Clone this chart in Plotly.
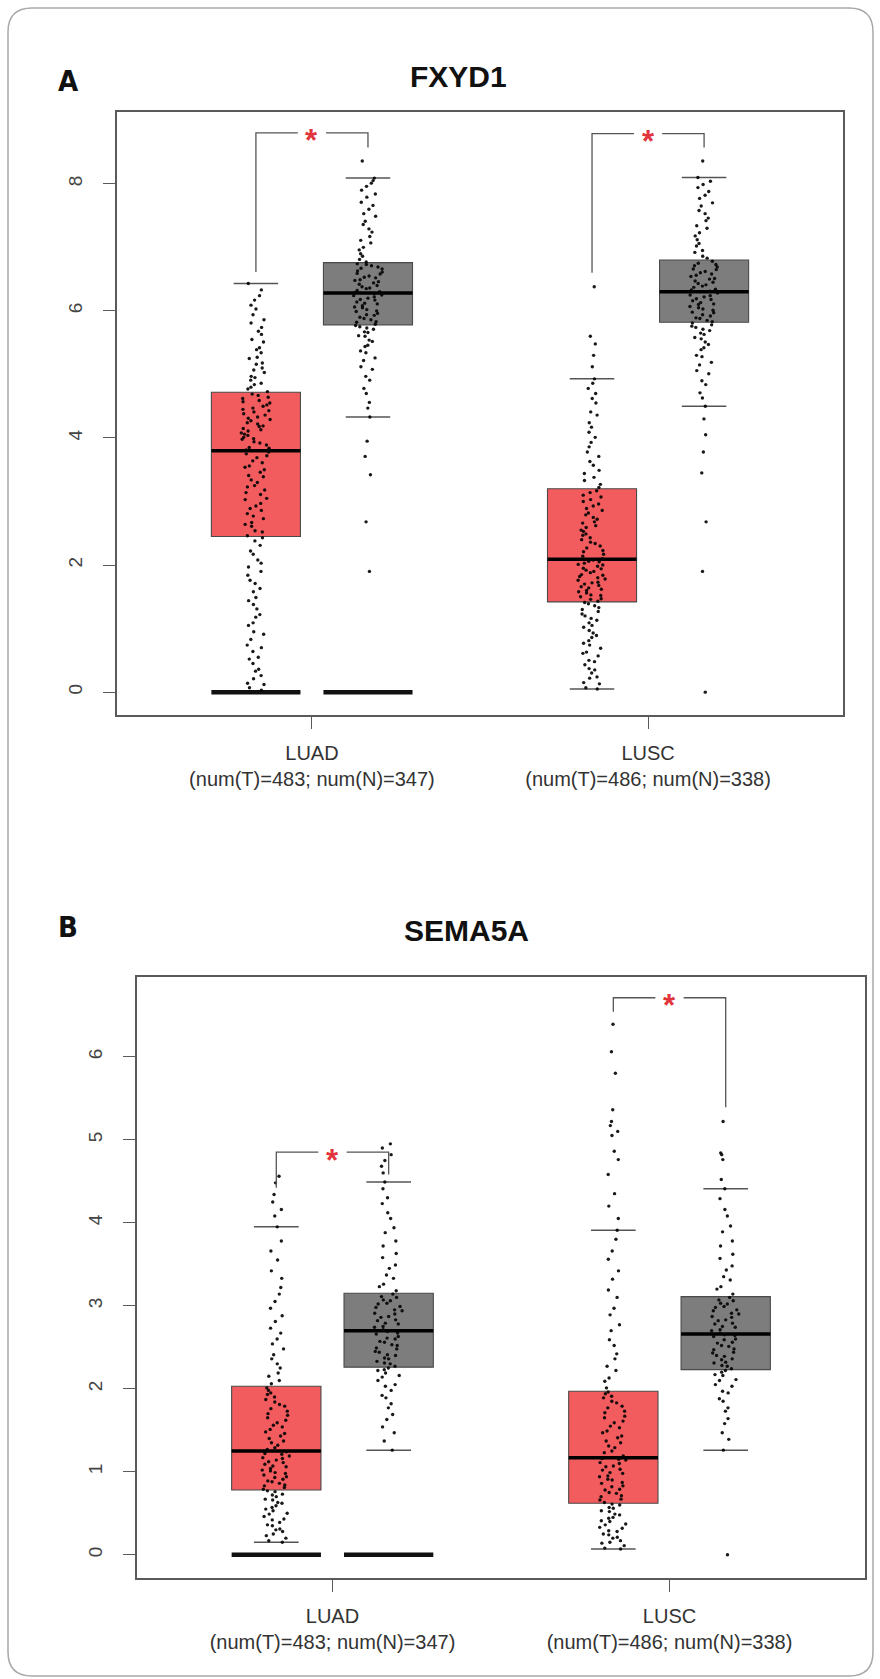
import plotly.graph_objects as go

W, H = 880, 1679

# ---------------- data ----------------
groups = ["LUAD", "LUSC"]
tick_labels = ["LUAD<br>(num(T)=483; num(N)=347)", "LUSC<br>(num(T)=486; num(N)=338)"]

# Panel A : FXYD1   (lower whisker, Q1, median, Q3, upper whisker)
a_title = "FXYD1"
a_t_lo = [0.00, 0.05]
a_t_q1 = [2.45, 1.42]
a_t_med = [3.80, 2.09]
a_t_q3 = [4.72, 3.20]
a_t_hi = [6.43, 4.93]
a_n_lo = [4.33, 4.50]
a_n_q1 = [5.78, 5.82]
a_n_med = [6.28, 6.30]
a_n_q3 = [6.76, 6.80]
a_n_hi = [8.09, 8.10]
a_zero_bar = [True, False]
a_br_y = [8.80, 8.79]
a_br_left = [6.61, 6.60]
a_br_right = [8.57, 8.57]
a_ticks = [0, 2, 4, 6, 8]

a_pts_luad_t = """0.03 0.07 0.12 0.14 0.21 0.26 0.33 0.36 0.45 0.52 0.55 0.64 0.7 0.74 0.83 0.91 0.95 1.05 1.09 1.18
1.22 1.31 1.38 1.44 1.49 1.58 1.63 1.71 1.76 1.84 1.9 1.97 2.03 2.08 2.17 2.22 2.31 2.38 2.43
2.46 2.52 2.54 2.61 2.64 2.67 2.73 2.77 2.81 2.86 2.89 2.93 2.97 3.03 3.05 3.11 3.14 3.18 3.23 3.25
3.3 3.34 3.39 3.41 3.46 3.5 3.54 3.56 3.61 3.64 3.69 3.72 3.75 3.78
3.81 3.84 3.85 3.89 3.92 3.94 3.98 3.99 4.01 4.04 4.06 4.08 4.11 4.13 4.15 4.18 4.19 4.22 4.24 4.27
4.29 4.31 4.33 4.36 4.38 4.41 4.43 4.45 4.47 4.5 4.52 4.55 4.57 4.59 4.62 4.64 4.67 4.69
4.73 4.77 4.8 4.84 4.86 4.91 4.95 4.97 5.03 5.07 5.1 5.16 5.18 5.25 5.27 5.34 5.39 5.42 5.51 5.55
5.63 5.68 5.74 5.81 5.86 5.94 6.03 6.09 6.17 6.24 6.33 6.43"""
a_pts_luad_n = """1.9 2.68 3.42 3.71 3.95 8.36
4.33 4.47 4.56 4.7 4.78 4.91 4.97 5.08 5.12 5.22 5.26 5.34 5.37 5.44 5.46 5.52 5.54 5.6 5.61 5.66 5.67 5.71 5.73 5.75 5.77
5.79 5.82 5.83 5.86 5.88 5.9 5.93 5.94 5.96 5.99 6.0 6.02 6.05 6.06 6.08 6.11 6.12 6.14 6.17 6.18 6.2 6.22 6.24 6.25 6.27
6.29 6.3 6.32 6.35 6.36 6.38 6.4 6.42 6.44 6.46 6.48 6.49 6.52 6.53 6.55 6.58 6.59 6.61 6.63 6.66 6.67 6.69 6.71 6.73 6.74
6.77 6.81 6.86 6.9 6.96 7.0 7.07 7.11 7.17 7.24 7.29 7.36 7.41 7.49 7.53 7.6 7.66 7.71 7.79 7.84 7.9 7.96 8.01 8.05 8.09"""
a_pts_lusc_t = """0.05 0.07 0.13 0.15 0.22 0.24 0.3 0.35 0.37 0.43 0.48 0.5 0.57 0.61 0.63 0.69 0.74 0.77 0.81 0.86
0.89 0.93 0.97 1.02 1.05 1.09 1.13 1.16 1.2 1.23 1.27 1.3 1.33 1.36 1.39 1.41
1.43 1.46 1.47 1.5 1.52 1.53 1.56 1.58 1.6 1.62 1.64 1.66 1.68 1.7 1.72 1.73 1.76 1.78 1.8 1.82
1.84 1.85 1.88 1.9 1.92 1.94 1.95 1.98 2.0 2.01 2.03 2.05 2.06 2.08
2.1 2.14 2.17 2.21 2.23 2.27 2.3 2.34 2.36 2.4 2.43 2.47 2.49 2.53 2.55 2.59 2.62 2.66 2.68 2.72
2.75 2.79 2.82 2.86 2.89 2.93 2.96 3.0 3.03 3.07 3.1 3.14 3.17
3.22 3.27 3.33 3.38 3.44 3.49 3.57 3.63 3.71 3.78 3.86 3.93 4.01 4.09 4.17 4.24 4.36 4.41 4.55 4.62
4.7 4.78 4.86 4.93 5.12 5.3 5.48 5.6 6.38"""
a_pts_lusc_n = """0.0 1.9 2.68 3.45 3.78 4.05 4.3 8.36
4.5 4.63 4.71 4.84 4.9 5.01 5.06 5.15 5.19 5.28 5.3 5.39 5.42 5.47 5.51 5.56 5.58 5.63 5.65 5.69 5.71 5.74 5.76 5.78 5.81
5.83 5.85 5.88 5.89 5.92 5.94 5.97 5.98 6.01 6.03 6.05 6.07 6.1 6.11 6.13 6.16 6.18 6.19 6.22 6.24 6.25 6.28
6.31 6.33 6.34 6.37 6.39 6.41 6.43 6.45 6.47 6.5 6.51 6.54 6.56 6.58 6.6 6.62 6.65 6.66 6.69 6.71 6.73 6.75 6.78
6.83 6.86 6.92 6.95 7.02 7.06 7.12 7.18 7.23 7.3 7.34 7.42 7.46 7.53 7.58 7.65 7.7 7.77 7.82 7.88 7.94 7.99 8.04 8.1"""

# Panel B : SEMA5A
b_title = "SEMA5A"
b_t_lo = [0.15, 0.07]
b_t_q1 = [0.78, 0.62]
b_t_med = [1.25, 1.17]
b_t_q3 = [2.03, 1.97]
b_t_hi = [3.95, 3.91]
b_n_lo = [1.26, 1.26]
b_n_q1 = [2.26, 2.23]
b_n_med = [2.70, 2.66]
b_n_q3 = [3.15, 3.11]
b_n_hi = [4.49, 4.41]
b_zero_bar = [True, False]
b_br_y = [4.85, 6.71]
b_br_left = [4.42, 6.54]
b_br_right = [4.58, 5.39]
b_ticks = [0, 1, 2, 3, 4, 5, 6]

b_pts_luad_t = """0.15 0.17 0.2 0.23 0.25 0.28 0.3 0.31 0.35 0.36 0.39 0.42 0.43 0.46 0.49 0.5 0.53 0.55 0.57 0.59
0.62 0.63 0.66 0.67 0.7 0.72 0.73 0.76 0.77
0.79 0.81 0.83 0.84 0.86 0.88 0.89 0.91 0.93 0.94 0.96 0.98 0.99 1.01 1.02 1.04 1.06 1.07 1.09 1.11
1.12 1.14 1.16 1.17 1.19 1.21 1.22 1.24
1.27 1.29 1.32 1.35 1.37 1.4 1.43 1.46 1.48 1.51 1.54 1.56 1.59 1.62 1.65 1.68 1.7 1.73 1.76 1.79
1.81 1.84 1.87 1.9 1.93 1.95 1.98 2.01
2.06 2.1 2.15 2.19 2.25 2.3 2.36 2.41 2.48 2.54 2.6 2.67 2.73 2.81 2.88 2.97 3.05 3.14 3.22 3.33
3.42 3.55 3.66 3.78 3.95 4.08 4.16 4.25 4.34 4.48 4.56"""
b_pts_luad_n = """1.26 1.37 1.47 1.54 1.63 1.69 1.77 1.82 1.89 1.92 1.98 2.03 2.05 2.1 2.14 2.16 2.19 2.22 2.23 2.25
2.27 2.3 2.31 2.33 2.36 2.37 2.4 2.41 2.44 2.45 2.48 2.49 2.52 2.53 2.56 2.57 2.6 2.61 2.63 2.66 2.67 2.69
2.71 2.74 2.75 2.78 2.79 2.82 2.83 2.86 2.87 2.9 2.91 2.94 2.95 2.98 2.99 3.02 3.03 3.06 3.07 3.1 3.11 3.14
3.18 3.23 3.26 3.33 3.37 3.45 3.49 3.58 3.63 3.72 3.78 3.88 3.94 4.05 4.12 4.23 4.3 4.41 4.49 4.6 4.68 4.75 4.82 4.9 4.95"""
b_pts_lusc_t = """0.07 0.08 0.11 0.14 0.15 0.17 0.2 0.21 0.24 0.25 0.28 0.29 0.32 0.33 0.36 0.37 0.4 0.41 0.44 0.45
0.48 0.49 0.52 0.53 0.56 0.57 0.6 0.61
0.63 0.66 0.67 0.7 0.71 0.74 0.75 0.78 0.79 0.82 0.83 0.86 0.87 0.9 0.91 0.94 0.95 0.98 0.99 1.02
1.03 1.06 1.07 1.1 1.11 1.14 1.15 1.16
1.19 1.23 1.25 1.29 1.31 1.35 1.37 1.41 1.43 1.47 1.49 1.53 1.55 1.59 1.61 1.65 1.67 1.71 1.73 1.77
1.79 1.83 1.85 1.89 1.91 1.94 1.96
2.01 2.09 2.13 2.22 2.27 2.36 2.42 2.52 2.59 2.7 2.77 2.89 2.97 3.1 3.19 3.32 3.42 3.56 3.66 3.8
3.91 4.05 4.2 4.35 4.58 4.76 4.86 5.05 5.1 5.17 5.22 5.36 5.8 6.06 6.39"""
b_pts_lusc_n = """0.0 1.26 1.39 1.47 1.58 1.64 1.73 1.77 1.85 1.88 1.95 1.97 2.03 2.05 2.1 2.11 2.16 2.17 2.2 2.22
2.24 2.27 2.28 2.31 2.32 2.35 2.36 2.39 2.4 2.43 2.44 2.47 2.48 2.51 2.52 2.55 2.56 2.59 2.6 2.63 2.64 2.65
2.67 2.7 2.71 2.74 2.75 2.78 2.79 2.82 2.83 2.86 2.87 2.9 2.91 2.94 2.95 2.98 2.99 3.02 3.03 3.06 3.07 3.1
3.14 3.2 3.23 3.31 3.35 3.43 3.48 3.57 3.62 3.72 3.78 3.89 3.96 4.08 4.16 4.29 4.41 4.52 4.76 4.82 4.84 5.22"""


def parse(s):
    return [float(v) for v in s.split()]


# ---------------- style / layout constants ----------------
T_FILL = "#F25C5E"
N_FILL = "#7D7D7D"
OUTLINE = "#4a4a4a"
FRAME = "#5a5a5a"
CAP = "#555555"
STAR = "#E2343C"
OFF = 0.1667      # offset of tumor / normal boxes from group centre
BW = 0.265        # box width (data units)
XR = [0.42, 2.58]
FONT = "Liberation Sans, Arial, Helvetica, sans-serif"

fig = go.Figure()


def flat_box(pos, val, width, color, lw, xa, ya):
    # degenerate box -> horizontal bar (median line, whisker cap, zero bar)
    fig.add_trace(go.Box(
        x=[pos], q1=[val], median=[val], q3=[val], lowerfence=[val], upperfence=[val],
        orientation="v", width=width, whiskerwidth=0, boxpoints=False,
        fillcolor=color, line=dict(color=color, width=lw),
        xaxis=xa, yaxis=ya, showlegend=False, hoverinfo="skip"))


def add_panel(xa, ya, t_stats, n_stats, zero_bar, pts, br_y, br_l, br_r):
    xref = "x" if xa == "x" else "x2"
    yref = "y" if ya == "y" else "y2"
    for gi in range(len(groups)):
        c = gi + 1
        for side, stats, fill in ((-1, t_stats, T_FILL), (1, n_stats, N_FILL)):
            lo, q1, med, q3, hi = [s[gi] for s in stats]
            pos = c + side * OFF
            fig.add_trace(go.Box(
                x=[pos], q1=[q1], median=[med], q3=[q3], lowerfence=[q1], upperfence=[q3],
                orientation="v", width=BW, whiskerwidth=0, boxpoints=False,
                fillcolor=fill, line=dict(color=OUTLINE, width=1.1),
                xaxis=xa, yaxis=ya, showlegend=False, hoverinfo="skip"))
            flat_box(pos, med, BW, "black", 3.5, xa, ya)
            flat_box(pos, lo, BW * 0.5, CAP, 1.5, xa, ya)
            flat_box(pos, hi, BW * 0.5, CAP, 1.5, xa, ya)
        if zero_bar[gi]:
            for side in (-1, 1):
                flat_box(c + side * OFF, 0, BW, "#111111", 4.5, xa, ya)
    # jittered sample points
    for gi in range(len(groups)):
        c = gi + 1
        for side, vals in ((-1, pts[gi][0]), (1, pts[gi][1])):
            pos = c + side * OFF
            fig.add_trace(go.Box(
                x=[pos] * len(vals), y=vals, boxpoints="all", jitter=0.33, pointpos=0,
                width=BW, fillcolor="rgba(0,0,0,0)", line=dict(color="rgba(0,0,0,0)", width=0),
                marker=dict(size=3.4, color="rgba(5,5,5,0.92)"),
                xaxis=xa, yaxis=ya, showlegend=False, hoverinfo="skip"))
    # significance brackets
    for gi in range(len(groups)):
        c = gi + 1
        xt, xn = c - OFF, c + OFF
        gap = 0.042
        fig.add_trace(go.Scatter(
            x=[xt, xt, c - gap, None, c + gap, xn, xn],
            y=[br_l[gi], br_y[gi], br_y[gi], None, br_y[gi], br_y[gi], br_r[gi]],
            mode="lines", line=dict(color="#555", width=1.3),
            xaxis=xa, yaxis=ya, showlegend=False, hoverinfo="skip"))
        fig.add_annotation(x=c, y=br_y[gi], xref=xref, yref=yref, text="<b>*</b>",
                           showarrow=False, yshift=-8,
                           font=dict(family=FONT, size=31, color=STAR))


add_panel("x", "y",
          [a_t_lo, a_t_q1, a_t_med, a_t_q3, a_t_hi],
          [a_n_lo, a_n_q1, a_n_med, a_n_q3, a_n_hi],
          a_zero_bar,
          [[parse(a_pts_luad_t), parse(a_pts_luad_n)], [parse(a_pts_lusc_t), parse(a_pts_lusc_n)]],
          a_br_y, a_br_left, a_br_right)
add_panel("x2", "y2",
          [b_t_lo, b_t_q1, b_t_med, b_t_q3, b_t_hi],
          [b_n_lo, b_n_q1, b_n_med, b_n_q3, b_n_hi],
          b_zero_bar,
          [[parse(b_pts_luad_t), parse(b_pts_luad_n)], [parse(b_pts_lusc_t), parse(b_pts_lusc_n)]],
          b_br_y, b_br_left, b_br_right)


def px_x(p):
    return p / W


def px_y(p):
    return 1 - p / H


common_x = dict(range=XR, tickvals=[1, 2], ticktext=tick_labels, ticks="outside", ticklen=12,
                tickwidth=1.3, tickcolor=FRAME, showline=True, mirror=True, linecolor=FRAME,
                linewidth=1.6, showgrid=False, zeroline=False, ticklabelstandoff=7,
                tickfont=dict(family=FONT, size=20, color="#333"))
common_y = dict(ticks="outside", ticklen=12, tickwidth=1.3, tickcolor=FRAME, showline=True,
                mirror=True, linecolor=FRAME, linewidth=1.6, showgrid=False, zeroline=False,
                tickangle=-90, ticklabelstandoff=14,
                tickfont=dict(family=FONT, size=19, color="#444"))

fig.update_layout(
    width=W, height=H, margin=dict(l=0, r=0, t=0, b=0),
    paper_bgcolor="white", plot_bgcolor="white", boxmode="overlay", showlegend=False,
    xaxis=dict(domain=[px_x(117), px_x(843)], anchor="y", **common_x),
    yaxis=dict(domain=[px_y(715), px_y(112)], anchor="x", range=[-0.36, 9.13],
               tickvals=a_ticks, **common_y),
    xaxis2=dict(domain=[px_x(137), px_x(865)], anchor="y2", **common_x),
    yaxis2=dict(domain=[px_y(1578), px_y(977)], anchor="x2", range=[-0.28, 6.96],
                tickvals=b_ticks, **common_y),
)

# titles and panel letters
for txt, x, y in ((a_title, 458, 58), (b_title, 466, 930)):
    fig.add_annotation(x=px_x(x), y=px_y(y), xref="paper", yref="paper", text=f"<b>{txt}</b>",
                       showarrow=False, font=dict(family=FONT, size=30, color="#111"))
for txt, x, y in (("A", 56, 62), ("B", 56, 927)):
    fig.add_annotation(x=px_x(x), y=px_y(y), xref="paper", yref="paper", text=f"<b>{txt}</b>",
                       showarrow=False,
                       font=dict(family="Liberation Sans Narrow, DejaVu Sans Condensed, Arial", size=29, color="#111"))

# rounded outer border
L, T, R, B, r = 8, 8, 873, 1676, 24
path = (f"M {px_x(L + r)},{px_y(T)} L {px_x(R - r)},{px_y(T)} Q {px_x(R)},{px_y(T)} {px_x(R)},{px_y(T + r)} "
        f"L {px_x(R)},{px_y(B - r)} Q {px_x(R)},{px_y(B)} {px_x(R - r)},{px_y(B)} "
        f"L {px_x(L + r)},{px_y(B)} Q {px_x(L)},{px_y(B)} {px_x(L)},{px_y(B - r)} "
        f"L {px_x(L)},{px_y(T + r)} Q {px_x(L)},{px_y(T)} {px_x(L + r)},{px_y(T)} Z")
fig.add_shape(type="path", path=path, xref="paper", yref="paper",
              line=dict(color="#a8a8a8", width=1.5), layer="below")

fig.write_html("out.html")
